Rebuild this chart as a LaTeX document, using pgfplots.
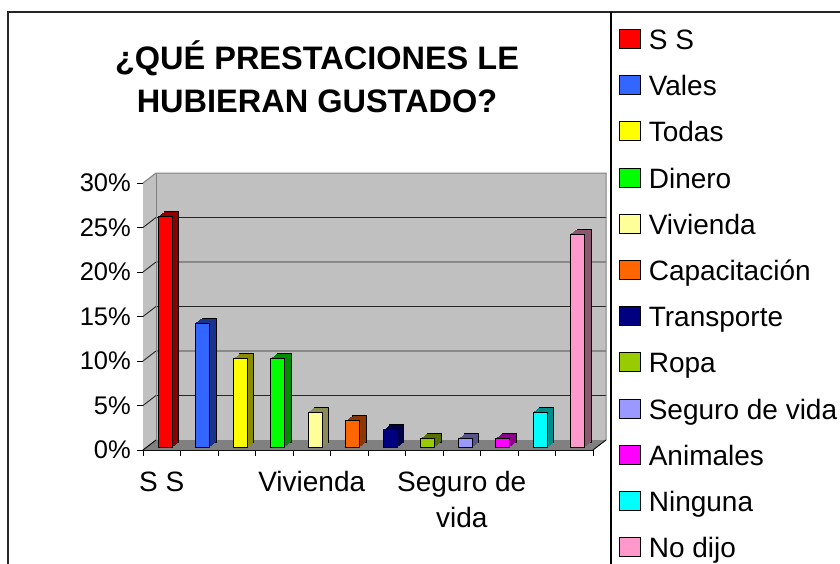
\documentclass[border=0pt]{standalone}
\usepackage{pgfplots}
\pgfplotsset{compat=1.18}
\usepackage{fontspec}
\setmainfont{Liberation Sans}

\definecolor{c1}{HTML}{FF0000}\definecolor{d1}{HTML}{8C0000}
\definecolor{c2}{HTML}{3366FF}\definecolor{d2}{HTML}{1A338C}
\definecolor{c3}{HTML}{FFFF00}\definecolor{d3}{HTML}{8C8C00}
\definecolor{c4}{HTML}{00FF00}\definecolor{d4}{HTML}{008C00}
\definecolor{c5}{HTML}{FFFF99}\definecolor{d5}{HTML}{8C8C55}
\definecolor{c6}{HTML}{FF6600}\definecolor{d6}{HTML}{8C3800}
\definecolor{c7}{HTML}{000080}\definecolor{d7}{HTML}{000045}
\definecolor{c8}{HTML}{99CC00}\definecolor{d8}{HTML}{557000}
\definecolor{c9}{HTML}{9999FF}\definecolor{d9}{HTML}{55558C}
\definecolor{c10}{HTML}{FF00FF}\definecolor{d10}{HTML}{8C008C}
\definecolor{c11}{HTML}{00FFFF}\definecolor{d11}{HTML}{008C8C}
\definecolor{c12}{HTML}{FF99CC}\definecolor{d12}{HTML}{8C5570}
\definecolor{wall}{HTML}{C0C0C0}
\definecolor{floorc}{HTML}{808080}

\pgfplotsset{
  frontbar/.style={ybar, bar width=14pt, bar shift=3.25pt, yshift=2.5pt, fill=#1, draw=black, line width=0.8pt,
    legend image code/.code={\draw[fill=#1, draw=black, line width=0.8pt] (0pt,-8.5pt) rectangle (21pt,10.5pt);}},
  backbar/.style={ybar, bar width=14pt, bar shift=9.75pt, yshift=7.5pt, fill=#1, draw=black, line width=0.8pt, forget plot},
  midbar/.style n args={3}{ybar, bar width=14pt, bar shift=#2pt, yshift=#3pt, fill=#1, draw=none, forget plot},
}
\newcommand{\prismbar}[4]{%
  \addplot[backbar=#4] coordinates {(#1,#2)};
  \addplot[midbar={#4}{8.8}{6.8}] coordinates {(#1,#2)};
  \addplot[midbar={#4}{7.8}{6.0}] coordinates {(#1,#2)};
  \addplot[midbar={#4}{6.8}{5.2}] coordinates {(#1,#2)};
  \addplot[midbar={#4}{5.8}{4.5}] coordinates {(#1,#2)};
  \addplot[midbar={#4}{4.8}{3.7}] coordinates {(#1,#2)};
  \addplot[midbar={#4}{3.9}{3.0}] coordinates {(#1,#2)};
  \addplot[frontbar=#3] coordinates {(#1,#2)};
}

\begin{document}
\begin{tikzpicture}[x=1pt,y=1pt]
\path[use as bounding box] (0,0) rectangle (840,-563);
\fill[white] (0,0) rectangle (840,-563);
\draw[line width=2pt, black!85] (8,-600) -- (8,-12) -- (900,-12);
\draw[line width=1.2pt, black] (611,-12) -- (611,-600);
\node[font=\bfseries\fontsize{32.5}{43}\selectfont, align=center] at (317,-77) {¿QUÉ PRESTACIONES LE\\HUBIERAN GUSTADO?};
\begin{axis}[
  scale only axis, width=450pt, height=267pt,
  at={(143pt,-450pt)}, anchor=south west,
  xmin=0, xmax=12, ymin=0, ymax=30,
  clip=false,
  axis lines*=left,
  axis line style={line width=1pt, black},
  tick align=outside, major tick length=6pt,
  tick style={black, line width=1pt},
  xtick={0,1,...,12}, xticklabels={},
  extra x ticks={0.5,4.5,8.5},
  extra x tick labels={S S, Vivienda, {Seguro de\\vida}},
  extra x tick style={major tick length=0pt,
    xticklabel style={align=center, anchor=north, yshift=-18pt, font=\fontsize{28}{36}\selectfont}},
  ytick={0,5,...,30},
  yticklabel={\pgfmathprintnumber{\tick}\%},
  yticklabel style={font=\fontsize{25.5}{30}\selectfont, inner sep=0pt, xshift=-6pt},
  /pgf/number format/assume math mode=true,
  legend style={at={(1.0578,1.5768)}, anchor=north west, draw=none, fill=none,
    inner sep=0pt, outer sep=0pt, row sep=19.8pt, column sep=8pt,
    font=\fontsize{28}{34}\selectfont,
    nodes={inner sep=0pt, outer sep=0pt, text height=20pt, text depth=6pt, anchor=west}},
  legend cell align=left,
]
% walls
\fill[wall] ([shift={(13pt,10pt)}]axis cs:0,0) rectangle ([shift={(13pt,10pt)}]axis cs:12,30);
\fill[wall] (axis cs:0,0) -- (axis cs:0,30) -- ([shift={(13pt,10pt)}]axis cs:0,30) -- ([shift={(13pt,10pt)}]axis cs:0,0) -- cycle;
\fill[floorc] (axis cs:0,0) -- (axis cs:12,0) -- ([shift={(13pt,10pt)}]axis cs:12,0) -- ([shift={(13pt,10pt)}]axis cs:0,0) -- cycle;
\pgfplotsinvokeforeach{5,10,15,20,25}{
  \draw[black!85, line width=0.9pt] (axis cs:0,#1) -- ([shift={(13pt,10pt)}]axis cs:0,#1) -- ([shift={(13pt,10pt)}]axis cs:12,#1);
}
\draw[gray, line width=1pt] (axis cs:0,30) -- ([shift={(13pt,10pt)}]axis cs:0,30) -- ([shift={(13pt,10pt)}]axis cs:12,30) -- ([shift={(13pt,10pt)}]axis cs:12,0);
\draw[gray, line width=1pt] ([shift={(13pt,10pt)}]axis cs:0,0) -- ([shift={(13pt,10pt)}]axis cs:0,30);
\draw[black, line width=0.9pt] (axis cs:0,0) -- ([shift={(13pt,10pt)}]axis cs:0,0);
\draw[black, line width=0.9pt] (axis cs:12,0) -- ([shift={(13pt,10pt)}]axis cs:12,0);
% bars
\prismbar{0.5}{26}{c1}{d1}
\addlegendentry{S S}
\prismbar{1.5}{14}{c2}{d2}
\addlegendentry{Vales}
\prismbar{2.5}{10}{c3}{d3}
\addlegendentry{Todas}
\prismbar{3.5}{10}{c4}{d4}
\addlegendentry{Dinero}
\prismbar{4.5}{4}{c5}{d5}
\addlegendentry{Vivienda}
\prismbar{5.5}{3}{c6}{d6}
\addlegendentry{Capacitación}
\prismbar{6.5}{2}{c7}{d7}
\addlegendentry{Transporte}
\prismbar{7.5}{1}{c8}{d8}
\addlegendentry{Ropa}
\prismbar{8.5}{1}{c9}{d9}
\addlegendentry{Seguro de vida}
\prismbar{9.5}{1}{c10}{d10}
\addlegendentry{Animales}
\prismbar{10.5}{4}{c11}{d11}
\addlegendentry{Ninguna}
\prismbar{11.5}{24}{c12}{d12}
\addlegendentry{No dijo}
\end{axis}
\end{tikzpicture}
\end{document}
